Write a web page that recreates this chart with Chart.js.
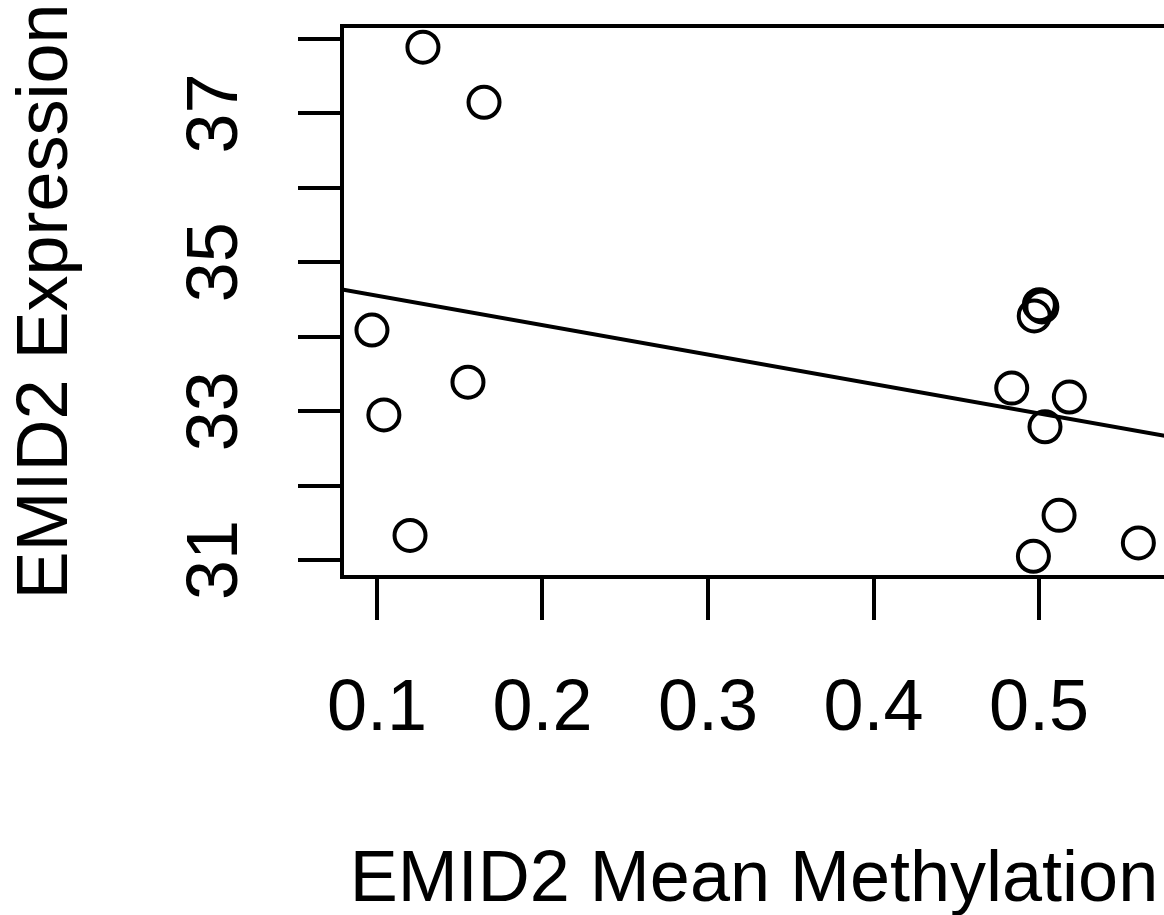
<!DOCTYPE html>
<html>
<head>
<meta charset="utf-8">
<script src="https://cdn.jsdelivr.net/npm/chart.js@4.4.0/dist/chart.umd.min.js"></script>
<style>
  html, body { margin: 0; padding: 0; background: #fff; overflow: hidden; }
  #wrap { width: 1180px; height: 915px; }
</style>
</head>
<body>
<div id="wrap"><canvas id="plot"></canvas></div>
<script>
// values
const methylation = [0.1278, 0.1647, 0.0970, 0.1550, 0.1042, 0.1200,
                     0.5002, 0.5017, 0.4971, 0.4835, 0.5183, 0.5036, 0.5121, 0.4966, 0.5600];
const expression  = [37.89, 37.15, 34.09, 33.39, 32.95, 31.33,
                     34.43, 34.40, 34.28, 33.31, 33.19, 32.79, 31.60, 31.05, 31.23];

const xTicks = [0.1, 0.2, 0.3, 0.4, 0.5];
const yTicks = [31, 32, 33, 34, 35, 36, 37, 38];
const yLabels = [31, 33, 35, 37];
const xRange = [0.0789, 0.5767];
const yRange = [30.772, 38.175];

const FONT = '"Liberation Sans", Arial, Helvetica, sans-serif';
const LW = 4;
Chart.defaults.font.family = FONT;
Chart.defaults.color = '#000';

// least squares line, like abline(lm(y ~ x))
const n = methylation.length;
const mx = methylation.reduce((s, v) => s + v, 0) / n;
const my = expression.reduce((s, v) => s + v, 0) / n;
let sxy = 0, sxx = 0;
for (let i = 0; i < n; i++) {
  sxy += (methylation[i] - mx) * (expression[i] - my);
  sxx += (methylation[i] - mx) ** 2;
}
const slope = sxy / sxx;
const intercept = my - slope * mx;
const fitLine = xRange.map(x => ({ x: x, y: intercept + slope * x }));

// box round the plot + y labels turned like R does them
const rAxes = {
  id: 'rAxes',
  afterDraw(chart) {
    const { ctx, chartArea: a } = chart;
    const y = chart.scales.y;
    ctx.save();
    ctx.strokeStyle = '#000';
    ctx.lineWidth = LW;
    ctx.strokeRect(a.left, a.top, a.right - a.left, a.bottom - a.top);
    ctx.fillStyle = '#000';
    ctx.font = '72px ' + FONT;
    ctx.textAlign = 'center';
    ctx.textBaseline = 'middle';
    yLabels.forEach(v => {
      ctx.save();
      ctx.translate(217, y.getPixelForValue(v));
      ctx.rotate(-Math.PI / 2);
      ctx.fillText(String(v), 0, 0);
      ctx.restore();
    });
    ctx.restore();
  }
};

const grid = {
  drawOnChartArea: false,
  drawTicks: true,
  color: '#000',
  tickColor: '#000',
  lineWidth: LW,
  tickWidth: LW
};

new Chart(document.getElementById('plot'), {
  type: 'scatter',
  data: {
    datasets: [
      {
        data: methylation.map((x, i) => ({ x: x, y: expression[i] })),
        pointRadius: 15.5,
        pointHoverRadius: 15.5,
        pointBorderWidth: LW,
        pointBorderColor: '#000',
        pointBackgroundColor: 'rgba(0,0,0,0)'
      },
      {
        type: 'line',
        data: fitLine,
        borderColor: '#000',
        borderWidth: LW,
        pointRadius: 0,
        fill: false
      }
    ]
  },
  options: {
    responsive: true,
    maintainAspectRatio: false,
    animation: false,
    events: [],
    layout: { autoPadding: false, padding: { left: 0, top: 26, right: 14, bottom: 0 } },
    plugins: { legend: { display: false }, tooltip: { enabled: false } },
    scales: {
      x: {
        type: 'linear',
        min: xRange[0],
        max: xRange[1],
        afterBuildTicks: s => { s.ticks = xTicks.map(v => ({ value: v })); },
        afterFit: s => { s.height = 338; },
        grid: Object.assign({ tickLength: 43 }, grid),
        border: { display: false },
        ticks: {
          font: { size: 72, lineHeight: 1 },
          color: '#000',
          padding: 54,
          maxRotation: 0,
          autoSkip: false,
          callback: v => v.toFixed(1)
        },
        title: {
          display: true,
          text: 'EMID2 Mean Methylation',
          color: '#000',
          font: { size: 72, lineHeight: 1 },
          padding: { top: 0, bottom: -2 }
        }
      },
      y: {
        type: 'linear',
        min: yRange[0],
        max: yRange[1],
        afterBuildTicks: s => { s.ticks = yTicks.map(v => ({ value: v })); },
        afterFit: s => { s.width = 342; },
        grid: Object.assign({ tickLength: 44 }, grid),
        border: { display: false },
        ticks: { display: false },
        title: {
          display: true,
          text: 'EMID2 Expression',
          color: '#000',
          font: { size: 72, lineHeight: 1 },
          padding: { top: 11, bottom: 0 }
        }
      }
    }
  },
  plugins: [rAxes]
});
</script>
</body>
</html>
